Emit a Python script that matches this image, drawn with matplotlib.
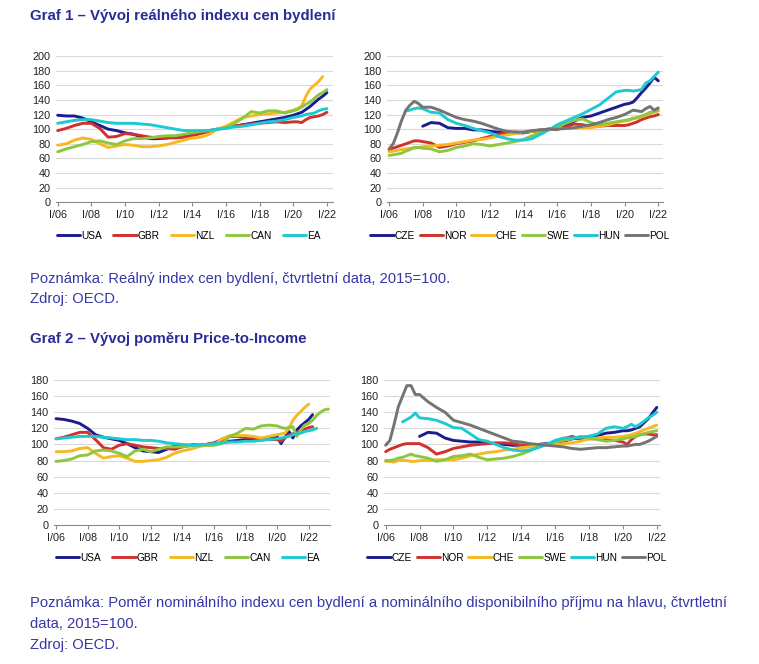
import numpy as np
import matplotlib
matplotlib.use("Agg")
import matplotlib.pyplot as plt

plt.rcParams['font.family'] = ['Liberation Sans', 'DejaVu Sans']

N = None
# ---------------- time grids (year positions of observations) ----------------
grid_1l = np.concatenate([np.arange(2006, 2020, 0.5), np.arange(2020, 2022.01, 0.25)])
grid_1r = np.concatenate([np.arange(2006, 2008, 0.25), np.arange(2008, 2020, 0.5), np.arange(2020, 2022.01, 0.25)])
grid_2l = np.concatenate([np.arange(2006, 2020, 0.5), np.arange(2020, 2023.26, 0.25)])
grid_2r = grid_1r

tick_years = [2006, 2008, 2010, 2012, 2014, 2016, 2018, 2020, 2022]
tick_labels = ["I/06", "I/08", "I/10", "I/12", "I/14", "I/16", "I/18", "I/20", "I/22"]

# ---------------- Graf 1, left: real house price index ----------------
names_1l = ["USA", "GBR", "NZL", "CAN", "EA"]
usa1 = [119,118,118,115,110,105,100,98,95,93,89,87,87,88,90,92,94,96,98,100,102,104,106,108,110,112,114,116,
        119,121,123,127,131,136,141,145,150]
gbr1 = [98,101,105,108,108,101,89,90,94,93,91,89,88,88,88,89,91,94,97,100,102,104,106,107,108,109,110,109,
        110,110,109,113,116,117,118,120,123]
nzl1 = [78,80,85,88,86,80,75,77,79,78,76,76,77,79,82,85,88,89,93,100,104,110,116,118,120,121,122,123,
        126,128,132,145,155,160,165,172,N]
can1 = [69,73,76,79,83,84,81,79,84,87,87,88,90,91,91,93,95,97,98,100,102,108,115,124,122,125,125,122,
        125,127,130,134,137,142,147,150,154]
ea1 = [108,110,112,113,113,111,109,108,108,108,107,106,104,102,100,98,98,98,98,100,101,103,104,106,108,110,111,113,
       116,117,118,120,121,122,125,127,128]

# ---------------- Graf 1, right ----------------
names_1r = ["CZE", "NOR", "CHE", "SWE", "HUN", "POL"]
cze1 = [N]*8 + [104,109,108,102,101,101,99,99,97,96,96,95,95,97,99,100,100,104,111,116,118,122,126,130] + \
       [134,135,137,143,150,156,163,171,166]
nor1 = [72,74,76,78,80,82,84,84] + [83,81,75,77,80,82,84,87,90,93,95,96,95,97,98,100,100,103,107,106,104,104,105,105] + \
       [105,106,108,110,113,115,117,118,120]
che1 = [69,70,71,72,73,74,74,75] + [76,77,78,79,81,83,85,86,88,90,92,94,96,97,99,100,101,101,101,102,102,104,106,109] + \
       [111,112,114,115,117,119,121,123,125]
swe1 = [64,65,66,67,70,72,75,75] + [74,73,69,71,75,77,80,79,77,79,81,83,86,91,96,100,103,108,112,114,109,106,108,110] + \
       [112,113,115,116,118,120,123,124,126]
hun1 = [N,N,N,N,125,126,128,129] + [128,123,122,113,108,105,101,98,95,90,87,85,85,87,93,99,106,111,116,121,127,133,142,151] + \
       [153,153,152,153,154,163,166,172,178]
pol1 = [73,80,95,112,126,133,138,135] + [130,130,126,121,116,113,111,108,104,100,97,96,96,98,99,100,100,101,102,104,106,109,113,116] + \
       [120,123,126,125,124,128,131,126,129]

# ---------------- Graf 2, left: price-to-income ----------------
usa2 = [132,131,129,126,120,112,109,107,105,101,96,92,91,90,94,98,99,99,100,100,101,103,104,105,106,106,107,108] + \
       [110,101,109,116,108,118,123,127,131,137,N,N,N,N]
gbr2 = [107,109,112,115,115,106,96,94,99,101,99,97,96,95,95,94,97,99,100,100,102,106,110,110,109,108,107,106] + \
       [106,104,108,112,113,115,117,119,121,122,N,N,N,N]
nzl2 = [91,91,92,95,96,89,83,85,86,83,79,79,80,81,84,89,92,94,97,99,99,107,111,111,111,110,108,110] + \
       [112,113,114,120,130,136,141,146,150,N,N,N,N,N]
can2 = [79,80,82,86,87,92,93,92,89,85,92,94,91,94,97,97,97,98,100,99,99,101,110,114,120,119,123,124] + \
       [123,121,120,121,122,110,118,124,126,130,136,140,143,144]
ea2 = [107,108,109,110,110,110,109,108,107,106,106,105,105,104,102,101,100,99,99,100,101,102,103,103,104,104,105,106] + \
      [107,108,109,110,112,113,114,116,117,118,120,N,N,N]

# ---------------- Graf 2, right ----------------
cze2 = [N]*8 + [110,115,114,108,105,104,103,103,102,101,100,99,99,99,100,101,102,104,107,108,110,111,114,115] + \
       [117,117,118,120,122,127,132,139,146]
nor2 = [91,94,96,98,100,101,101,101] + [101,96,88,91,95,97,99,100,101,102,102,101,99,99,100,100,103,107,110,107,107,107,106,105] + \
       [103,100,106,110,112,113,113,112,112]
che2 = [79,79,78,80,80,80,79,79] + [80,80,81,81,81,83,86,88,90,91,93,94,96,97,99,100,100,101,102,104,107,108,109,109] + \
       [110,111,112,114,116,118,120,122,124]
swe2 = [80,80,81,83,84,86,88,86] + [85,83,79,81,85,86,88,84,81,82,83,85,88,92,97,100,103,105,107,110,108,106,104,105] + \
       [107,108,109,110,112,113,115,116,117]
hun2 = [N,N,N,N,128,131,134,139] + [133,132,130,126,121,120,113,106,104,100,96,93,92,93,96,100,105,108,108,109,110,113,120,122] + \
       [120,122,125,122,125,129,133,136,140]
pol2 = [99,105,125,147,160,173,173,162] + [162,153,146,140,130,127,124,120,116,112,108,104,103,101,100,99,98,97,95,94,95,96,96,97] + \
       [98,98,99,100,100,102,104,107,110]

# ---------------- texts ----------------
title1 = "Graf 1 – Vývoj reálného indexu cen bydlení"
note1 = ["Poznámka: Reálný index cen bydlení, čtvrtletní data, 2015=100.", "Zdroj: OECD."]
title2 = "Graf 2 – Vývoj poměru Price-to-Income"
note2 = ["Poznámka: Poměr nominálního indexu cen bydlení a nominálního disponibilního příjmu na hlavu, čtvrtletní",
         "data, 2015=100.", "Zdroj: OECD."]

# ---------------- styling ----------------
col_a = ["#1c1c8e", "#d0312d", "#f6b924", "#8dc63f", "#1fc9d1"]
col_b = ["#1c1c8e", "#d0312d", "#f6b924", "#8dc63f", "#1fc9d1", "#747474"]
TITLE_C = "#2b2b98"
NOTE_C = "#3636a8"
FS = 7.8
LFS = 7.3

W, H = 759, 664
fig = plt.figure(figsize=(W / 100, H / 100), dpi=100)


def px_axes(l, t, r, b):
    return fig.add_axes([l / W, 1 - b / H, (r - l) / W, (b - t) / H])


def draw(ax, grid, series, names, colors, ymax, xlim, leg_xy, colsp):
    for s, n, c in zip(series, names, colors):
        y = np.array(s, dtype=float)
        ax.plot(grid, y, color=c, lw=2.1, label=n, solid_capstyle='round')
    ax.set_xlim(*xlim)
    ax.set_ylim(0, ymax)
    ax.set_yticks(np.arange(0, ymax + 1, 20))
    ax.set_xticks(tick_years)
    ax.set_xticklabels(tick_labels)
    ax.grid(axis='y', color='#d9d9d9', lw=0.8)
    ax.set_axisbelow(True)
    for sp in ['top', 'right', 'left']:
        ax.spines[sp].set_visible(False)
    ax.spines['bottom'].set_color('#8c8c8c')
    ax.spines['bottom'].set_linewidth(0.8)
    ax.tick_params(axis='y', length=0, labelsize=FS, pad=4, colors='#222222')
    ax.tick_params(axis='x', length=3, width=0.8, color='#8c8c8c', labelsize=FS, pad=2.5, labelcolor='#222222')
    ax.legend(loc='center', bbox_to_anchor=(leg_xy[0] / W, 1 - leg_xy[1] / H), bbox_transform=fig.transFigure,
              ncol=len(names), frameon=False, fontsize=LFS, handlelength=2.3, handletextpad=0.12,
              columnspacing=colsp, borderpad=0)


ax1 = px_axes(56, 56, 333, 202.3)
draw(ax1, grid_1l, [usa1, gbr1, nzl1, can1, ea1], names_1l, col_a, 200, (2005.9, 2022.36), (189, 236), 1.1)
ax2 = px_axes(387, 56, 662.7, 202.3)
draw(ax2, grid_1r, [cze1, nor1, che1, swe1, hun1, pol1], names_1r, col_b, 200, (2005.88, 2022.26), (520, 236), 0.45)
ax3 = px_axes(54.3, 380, 330, 525)
draw(ax3, grid_2l, [usa2, gbr2, nzl2, can2, ea2], names_1l, col_a, 180, (2005.89, 2023.35), (188, 558), 1.1)
ax4 = px_axes(384.3, 380, 660, 525)
draw(ax4, grid_2r, [cze2, nor2, che2, swe2, hun2, pol2], names_1r, col_b, 180, (2005.92, 2022.19), (517, 558), 0.45)

# titles and notes
fig.text(30 / W, 1 - 16 / H, title1, fontsize=10.8, fontweight='bold', color=TITLE_C, va='center', ha='left')
for i, line in enumerate(note1):
    fig.text(30 / W, 1 - (279 + 20 * i) / H, line, fontsize=10.6, color=NOTE_C, va='center', ha='left')
fig.text(30 / W, 1 - 339 / H, title2, fontsize=10.8, fontweight='bold', color=TITLE_C, va='center', ha='left')
for y, line in zip([603, 624, 645], note2):
    fig.text(30 / W, 1 - y / H, line, fontsize=10.6, color=NOTE_C, va='center', ha='left')

fig.savefig("out.png", dpi=100, facecolor='white')
